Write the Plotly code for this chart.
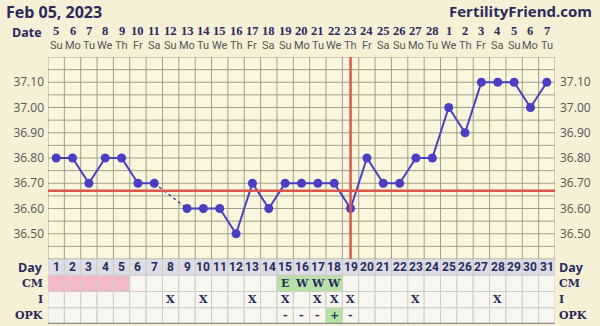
import plotly.graph_objects as go

# ---------------- data ----------------
days = list(range(1, 32))
date_nums = ['5', '6', '7', '8', '9', '10', '11', '12', '13', '14', '15', '16', '17', '18',
             '19', '20', '21', '22', '23', '24', '25', '26', '27', '28', '1', '2', '3', '4',
             '5', '6', '7']
weekdays = ['Su', 'Mo', 'Tu', 'We', 'Th', 'Fr', 'Sa'] * 4 + ['Su', 'Mo', 'Tu']
temps = [36.80, 36.80, 36.70, 36.80, 36.80, 36.70, 36.70, None, 36.60, 36.60,
         36.60, 36.50, 36.70, 36.60, 36.70, 36.70, 36.70, 36.70, 36.60, 36.80,
         36.70, 36.70, 36.80, 36.80, 37.00, 36.90, 37.10, 37.10, 37.10, 37.00, 37.10]
coverline = 36.67
ovulation_day = 19
temp_ticks = [36.50, 36.60, 36.70, 36.80, 36.90, 37.00, 37.10]
period_days = [1, 2, 3, 4, 5]
cm_days = [15, 16, 17, 18]
cm_codes = ['E', 'W', 'W', 'W']
intercourse_days = [8, 10, 13, 15, 17, 18, 19, 23, 28]
opk_days = [15, 16, 17, 18, 19]
opk_results = ['-', '-', '-', '+', '-']
row_labels = ['Day', 'CM', 'I', 'OPK']
chart_date = 'Feb 05, 2023'
site = 'FertilityFriend.com'

# ---------------- style ----------------
PAPER = '#f6f0d7'
PLOT = '#faf6dd'
GRID = '#a29f88'
NAVY = '#2a2a5c'
LINE = '#4a3ec2'
RED = '#d9574c'
PINK = '#f4b9c9'
GREEN = '#b4e3a4'
DAYROW = '#dcdde6'
CELL = '#f7f6f0'
CELLB = '#cdcdc4'
SANS = 'Open Sans'
NARROW = 'Roboto'
SERIF = 'DejaVu Serif'
NUMSERIF = 'Liberation Serif'

ymin, ymax = 36.40, 37.20
W, H = 600, 326
ml, mr, mt, mb = 48, 45, 57, 2
plot_h = H - mt - mb
table_px = 65
split = table_px / plot_h

fig = go.Figure()
shapes = []
annotations = []

# chart grid (horizontal every 0.05)
n_h = int(round((ymax - ymin) / 0.05))
for i in range(n_h + 1):
    v = ymin + i * 0.05
    shapes.append(dict(type='line', xref='x', yref='y', x0=0.5, x1=31.5, y0=v, y1=v,
                       line=dict(color=GRID, width=1), layer='below'))
# vertical grid in chart
for i in range(len(days) + 1):
    xv = 0.5 + i
    shapes.append(dict(type='line', xref='x', yref='y', x0=xv, x1=xv, y0=ymin, y1=ymax,
                       line=dict(color=GRID, width=1), layer='below'))

# table cells
for r in range(4):
    for d in days:
        fill = DAYROW if r == 0 else CELL
        if r == 1 and d in period_days:
            fill = PINK
        if r == 1 and d in cm_days:
            fill = GREEN
        if r == 3 and d in opk_days and opk_results[opk_days.index(d)] == '+':
            fill = GREEN
        shapes.append(dict(type='rect', xref='x', yref='y2', x0=d - 0.5, x1=d + 0.5,
                           y0=r, y1=r + 1, fillcolor=fill,
                           line=dict(color=CELLB, width=1), layer='below'))
shapes.append(dict(type='line', xref='x', yref='y2', x0=0.5, x1=31.5, y0=4, y1=4,
                   line=dict(color='#8c8c88', width=2.5)))

# coverline and ovulation line
shapes.append(dict(type='line', xref='x', yref='y', x0=0.5, x1=31.5, y0=coverline, y1=coverline,
                   line=dict(color=RED, width=2.5)))
shapes.append(dict(type='line', xref='x', yref='y', x0=ovulation_day, x1=ovulation_day,
                   y0=ymin, y1=ymax, line=dict(color=RED, width=2.5)))

# temperature line
fig.add_trace(go.Scatter(x=days, y=temps, mode='lines+markers', connectgaps=False,
                         line=dict(color=LINE, width=2), marker=dict(color=LINE, size=9),
                         xaxis='x', yaxis='y', hoverinfo='x+y', showlegend=False))
# dashed bridge over missing temperatures
for i, t in enumerate(temps):
    if t is None:
        a = i - 1
        while a >= 0 and temps[a] is None:
            a -= 1
        b = i + 1
        while b < len(temps) and temps[b] is None:
            b += 1
        if a >= 0 and b < len(temps) and (a == i - 1):
            fig.add_trace(go.Scatter(x=[days[a], days[b]], y=[temps[a], temps[b]],
                                     mode='lines', line=dict(color='#3a3a7e', width=1.3, dash='3px,3px'),
                                     xaxis='x', yaxis='y', hoverinfo='skip', showlegend=False))
# dummy trace for right axis
fig.add_trace(go.Scatter(x=[None], y=[None], xaxis='x', yaxis='y3', showlegend=False))

# top date labels
for d, n, wd in zip(days, date_nums, weekdays):
    annotations.append(dict(x=d, xref='x', y=1, yref='paper', yanchor='middle', yshift=26,
                            text=n, showarrow=False, borderpad=0,
                            font=dict(family=NUMSERIF, size=12.5, color=NAVY, weight='bold')))
    annotations.append(dict(x=d, xref='x', y=1, yref='paper', yanchor='middle', yshift=12,
                            text=wd, showarrow=False, borderpad=0,
                            font=dict(family=NARROW, size=11, color='#555555')))

# table contents
for d in days:
    annotations.append(dict(x=d, xref='x', y=0.5, yref='y2', text=str(d), showarrow=False,
                            font=dict(family=NARROW, size=12, color=NAVY, weight='bold')))
for d, c in zip(cm_days, cm_codes):
    annotations.append(dict(x=d, xref='x', y=1.5, yref='y2', text=c, showarrow=False,
                            font=dict(family=SERIF, size=11, color=NAVY, weight='bold')))
for d in intercourse_days:
    annotations.append(dict(x=d, xref='x', y=2.5, yref='y2', text='X', showarrow=False,
                            font=dict(family=SERIF, size=11, color=NAVY, weight='bold')))
for d, o in zip(opk_days, opk_results):
    annotations.append(dict(x=d, xref='x', y=3.5, yref='y2', text=o, showarrow=False,
                            font=dict(family=SERIF, size=11, color=NAVY, weight='bold')))

# row labels
for r, lab in enumerate(row_labels):
    fam = SANS if lab == 'Day' else SERIF
    sz = 12.5 if lab == 'Day' else 11
    annotations.append(dict(x=0, xref='paper', y=r + 0.5, yref='y2', xanchor='right', xshift=-3,
                            text=lab, showarrow=False,
                            font=dict(family=fam, size=sz, color=NAVY, weight='bold')))
    annotations.append(dict(x=1, xref='paper', y=r + 0.5, yref='y2', xanchor='left', xshift=2,
                            text=lab, showarrow=False,
                            font=dict(family=fam, size=sz, color=NAVY, weight='bold')))

# header texts
annotations.append(dict(x=-43 / 507, xref='paper', y=1, yref='paper', xanchor='left',
                        yanchor='top', yshift=57, text=chart_date, showarrow=False,
                        borderpad=0,
                        font=dict(family=SANS, size=16, color=NAVY, weight='bold')))
annotations.append(dict(x=(593 - ml) / 507, xref='paper', y=1, yref='paper', xanchor='right',
                        yanchor='top', yshift=57, text=site, showarrow=False,
                        borderpad=0,
                        font=dict(family=SANS, size=15, color=NAVY, weight='bold')))
annotations.append(dict(x=0, xref='paper', y=1, yref='paper', xanchor='right', xshift=-4,
                        yanchor='middle', yshift=25, text='Date', showarrow=False,
                        font=dict(family=SANS, size=12.5, color=NAVY, weight='bold')))

tick_text = ['%.2f' % v for v in temp_ticks]
fig.update_layout(
    width=W, height=H,
    margin=dict(l=ml, r=mr, t=mt, b=mb, pad=0),
    paper_bgcolor=PAPER, plot_bgcolor=PLOT,
    showlegend=False,
    xaxis=dict(range=[0.5, 31.5], showgrid=False, zeroline=False, showticklabels=False,
               ticks='', fixedrange=True),
    yaxis=dict(domain=[split, 1], range=[ymin, ymax], tickvals=temp_ticks, ticktext=tick_text,
               showgrid=False, zeroline=False, ticks='', ticklabelstandoff=3,
               tickfont=dict(family=SANS, size=12, color='#555555')),
    yaxis3=dict(domain=[split, 1], range=[ymin, ymax], tickvals=temp_ticks, ticktext=tick_text,
                overlaying='y', side='right', anchor='x',
                showgrid=False, zeroline=False, ticks='', ticklabelstandoff=4,
                tickfont=dict(family=SANS, size=12, color='#555555')),
    yaxis2=dict(domain=[0, split], range=[4, 0], showgrid=False, zeroline=False,
                showticklabels=False, ticks='', anchor='x'),
    shapes=shapes,
    annotations=annotations,
)

fig.write_html('out.html')
